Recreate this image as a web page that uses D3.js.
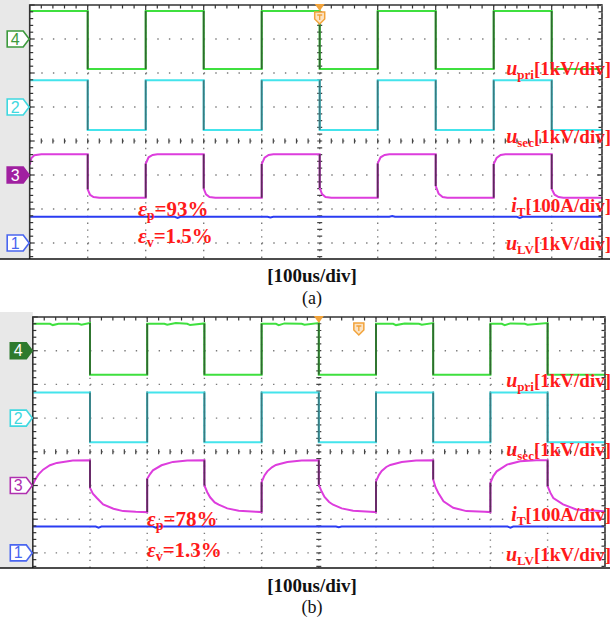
<!DOCTYPE html>
<html>
<head>
<meta charset="utf-8">
<script src="https://cdn.jsdelivr.net/npm/d3@7"></script>
<style>
  body { margin: 0; background: #fff; }
  text { font-family: "Liberation Serif", "Times New Roman", serif; }
</style>
</head>
<body>
<svg id="chart" width="610" height="626"></svg>
<script>
// time in divisions (100us/div), values in divisions above each channel's ground marker

// ---- panel (a) ----
const priA = [[0,0.82],[1,0.82],[1,-0.88],[2,-0.88],[2,0.82],[3,0.82],[3,-0.88],[4,-0.88],[4,0.82],[5,0.82],[5,-0.88],
  [6,-0.88],[6,0.82],[7,0.82],[7,-0.88],[8,-0.88],[8,0.82],[9,0.82],[9,-0.88],[10,-0.88]];
const secA = [[0,0.79],[1,0.79],[1,-0.68],[2,-0.68],[2,0.79],[3,0.79],[3,-0.68],[4,-0.68],[4,0.79],[5,0.79],[5,-0.68],
  [6,-0.68],[6,0.79],[7,0.79],[7,-0.68],[8,-0.68],[8,0.79],[9,0.79],[9,-0.68],[10,-0.68]];
const curA = [
  [0,0.30],[0.03,0.50],[0.08,0.58],[0.2,0.61],
  [1,0.61],[1,-0.42],[1.04,-0.58],[1.1,-0.65],[1.2,-0.67],
  [2,-0.67],[2,0.33],[2.05,0.52],[2.12,0.59],[2.2,0.61],
  [3,0.61],[3,-0.40],[3.04,-0.57],[3.1,-0.65],[3.2,-0.67],
  [4,-0.67],[4,0.32],[4.05,0.51],[4.12,0.59],[4.2,0.61],
  [5,0.61],[5,-0.38],[5.04,-0.56],[5.1,-0.65],[5.2,-0.67],
  [6,-0.67],[6,0.34],[6.05,0.52],[6.12,0.59],[6.2,0.61],
  [7,0.61],[7,-0.32],[7.05,-0.55],[7.12,-0.65],[7.2,-0.67],
  [8,-0.67],[8,0.32],[8.05,0.50],[8.12,0.59],[8.2,0.61],
  [9,0.61],[9,-0.41],[9.05,-0.58],[9.12,-0.65],[9.2,-0.67],
  [10,-0.67]];
const lvA = [[0,0.77],[2.5,0.77],[2.55,0.74],[2.6,0.77],[4.1,0.77],[4.15,0.75],[4.2,0.77],[6.2,0.77],[6.25,0.79],
  [6.3,0.77],[8.4,0.77],[8.45,0.74],[8.5,0.77],[10,0.77]];

// ---- panel (b) ----
const priB = [[0,0.80],[0.3,0.80],[0.35,0.76],[0.45,0.80],[0.8,0.80],[0.85,0.77],[1,0.82],[1,-0.71],[2,-0.71],
  [2,0.80],[2.3,0.80],[2.35,0.77],[2.5,0.82],[2.7,0.80],[2.75,0.76],[3,0.81],[3,-0.71],[4,-0.71],
  [4,0.80],[4.25,0.80],[4.3,0.76],[4.4,0.81],[4.7,0.80],[4.75,0.77],[5,0.82],[5,-0.71],[6,-0.71],
  [6,0.80],[6.3,0.80],[6.35,0.76],[6.5,0.81],[6.75,0.80],[6.8,0.77],[7,0.82],[7,-0.71],[8,-0.71],
  [8,0.80],[8.2,0.80],[8.25,0.76],[8.35,0.81],[8.6,0.80],[8.65,0.77],[9,0.82],[9,-0.71],[10,-0.71]];
const secB = [[0,0.76],[1,0.76],[1,-0.72],[2,-0.72],[2,0.76],[3,0.76],[3,-0.72],[4,-0.72],[4,0.76],[5,0.76],[5,-0.72],
  [6,-0.72],[6,0.76],[7,0.76],[7,-0.72],[8,-0.72],[8,0.76],[9,0.76],[9,-0.72],[10,-0.72]];
const curB = [
  [0,0.03],[0.05,0.20],[0.1,0.33],[0.18,0.47],[0.3,0.60],[0.42,0.67],[0.7,0.74],
  [1,0.75],[1,-0.07],[1.05,-0.24],[1.12,-0.37],[1.23,-0.56],[1.41,-0.69],[1.58,-0.76],[1.8,-0.78],
  [2,-0.79],[2,0.20],[2.05,0.34],[2.1,0.45],[2.25,0.60],[2.45,0.70],[2.7,0.74],
  [3,0.75],[3,0.0],[3.05,-0.20],[3.1,-0.35],[3.18,-0.50],[3.25,-0.57],[3.4,-0.68],[3.6,-0.75],[3.9,-0.78],
  [4,-0.79],[4,0.10],[4.05,0.30],[4.1,0.42],[4.18,0.54],[4.25,0.61],[4.45,0.70],[4.7,0.74],
  [5,0.75],[5,0.02],[5.05,-0.18],[5.1,-0.34],[5.18,-0.49],[5.25,-0.57],[5.4,-0.68],[5.6,-0.75],[5.9,-0.78],
  [6,-0.79],[6,0.12],[6.05,0.31],[6.1,0.43],[6.18,0.55],[6.25,0.61],[6.45,0.70],[6.7,0.74],
  [7,0.75],[7,0.18],[7.04,-0.05],[7.09,-0.22],[7.18,-0.47],[7.35,-0.66],[7.58,-0.76],[7.9,-0.78],
  [8,-0.79],[8,0.08],[8.05,0.28],[8.11,0.42],[8.29,0.62],[8.52,0.72],[8.8,0.75],
  [9,0.75],[9,-0.02],[9.05,-0.22],[9.1,-0.37],[9.27,-0.56],[9.5,-0.71],[9.92,-0.76],[10,-0.77]];
const lvB = [[0,0.78],[1.1,0.78],[1.15,0.75],[1.2,0.78],[2.1,0.78],[2.15,0.75],[2.2,0.78],[5.3,0.78],[5.35,0.76],
  [5.4,0.78],[8.3,0.78],[8.35,0.75],[8.4,0.78],[10,0.78]];

// text
const chanUnitLabels = [["u","pri","[1kV/div]"],["u","sec","[1kV/div]"],["i","T","[100A/div]"],["u","LV","[1kV/div]"]];
const epsPValues = ["=93%", "=78%"];
const epsVValues = ["=1.5%", "=1.3%"];
const timeBaseLabel = "[100us/div]";
const panelTags = ["(a)", "(b)"];

const svg = d3.select("#chart");

const panels = [
  { x0: 29.7, dx: 58, top: 5, dy: 34, right: 602, bottom: 259, stripTop: 0,
    traces: [priA, secA, curA, lvA], markerFill: [false, false, true, false], trigT: 5,
    labelY: [75, 143, 212, 250], epsX: 138, epsY: [216, 243], baseY: 282, tagY: 304, tag: 0 },
  { x0: 32.8, dx: 57.2, top: 317, dy: 33.7, right: 605, bottom: 568, stripTop: 312,
    traces: [priB, secB, curB, lvB], markerFill: [true, false, false, false], trigT: 5.7,
    labelY: [387, 456, 521, 561], epsX: 147, epsY: [526, 557], baseY: 592, tagY: 613, tag: 1 }
];

// channel order: ch4 u_pri, ch2 u_sec, ch3 i_T, ch1 u_LV
const chanNums = ["4", "2", "3", "1"];
const chanGround = [3, 1, -1, -3];
const chanColor = ["#3fe03f", "#44e4ec", "#dd3ddd", "#2a3cf2"];
const chanEdge = ["#2f6a2f", "#3a7a80", "#5c2a5c", "#2a3cf2"];
const markerColor = ["#3d9a3d", "#3fd8e0", "#b030b0", "#4a66f0"];
const markerFillColor = ["#2e7a2e", "#3fd8e0", "#a020a0", "#4a66f0"];

panels.forEach((p, pi) => {
  const g = svg.append("g");
  const x = d3.scaleLinear().domain([0, 10]).range([p.x0, p.x0 + 10 * p.dx]);
  const y = d3.scaleLinear().domain([4, -4]).range([p.top, p.top + 8 * p.dy]);

  // left grey strip
  g.append("rect").attr("x", 0).attr("y", p.stripTop).attr("width", p.x0).attr("height", p.bottom - p.stripTop)
    .attr("fill", "#e8e8e8");

  const clipId = "clip" + pi;
  svg.append("clipPath").attr("id", clipId).append("rect")
    .attr("x", p.x0).attr("y", p.top).attr("width", p.right - p.x0).attr("height", p.bottom - p.top);
  const plot = g.append("g").attr("clip-path", `url(#${clipId})`);

  const sx = p.dx / 5, sy = p.dy / 5;
  // dotted grid
  d3.range(1, 10).forEach(t => {
    plot.append("line").attr("x1", x(t)).attr("x2", x(t)).attr("y1", p.top).attr("y2", p.bottom)
      .attr("stroke", "#7a7a7a").attr("stroke-width", 1.4).attr("stroke-dasharray", `1.4,${sy - 1.4}`);
  });
  d3.range(-3, 4).forEach(k => {
    plot.append("line").attr("x1", p.x0).attr("x2", p.right).attr("y1", y(k)).attr("y2", y(k))
      .attr("stroke", "#7a7a7a").attr("stroke-width", 1.4).attr("stroke-dasharray", `1.4,${sx - 1.4}`);
  });
  // centre axes with small ticks
  d3.range(0, 41).forEach(i => {
    const yy = p.top + i * sy;
    plot.append("line").attr("x1", x(5) - 2.5).attr("x2", x(5) + 2.5).attr("y1", yy).attr("y2", yy)
      .attr("stroke", "#444").attr("stroke-width", 1.2);
  });
  d3.range(0, 51).forEach(i => {
    const xx = p.x0 + i * sx;
    plot.append("line").attr("x1", xx).attr("x2", xx).attr("y1", y(0) - 2.5).attr("y2", y(0) + 2.5)
      .attr("stroke", "#444").attr("stroke-width", 1.2);
  });

  // border ticks
  d3.range(0, 51).forEach(i => {
    const xx = p.x0 + i * sx;
    if (xx > p.right) return;
    g.append("line").attr("x1", xx).attr("x2", xx).attr("y1", p.top).attr("y2", p.top + (i % 5 === 0 ? 5 : 3.5))
      .attr("stroke", "#333").attr("stroke-width", 1.2);
  });
  d3.range(0, 41).forEach(i => {
    const yy = p.top + i * sy;
    if (yy > p.bottom) return;
    g.append("line").attr("x1", p.x0).attr("x2", p.x0 + (i % 5 === 0 ? 5 : 3.5)).attr("y1", yy).attr("y2", yy)
      .attr("stroke", "#333").attr("stroke-width", 1.2);
    g.append("line").attr("x1", p.right).attr("x2", p.right - (i % 5 === 0 ? 5 : 3.5)).attr("y1", yy).attr("y2", yy)
      .attr("stroke", "#333").attr("stroke-width", 1.2);
  });
  // frame
  g.append("path")
    .attr("d", `M${p.x0},${p.bottom}V${p.top}H${p.right}V${p.bottom}`)
    .attr("fill", "none").attr("stroke", "#333").attr("stroke-width", 1.6);
  g.append("line").attr("x1", 0).attr("x2", 610).attr("y1", p.bottom).attr("y2", p.bottom)
    .attr("stroke", "#111").attr("stroke-width", 1.4);
  g.append("line").attr("x1", p.right).attr("x2", p.right).attr("y1", p.top).attr("y2", p.bottom)
    .attr("stroke", "#8a8a8a").attr("stroke-width", 1.2).attr("stroke-dasharray", `1.4,${sy - 1.4}`);

  // traces
  const line = d3.line().x(d => x(d[0])).y(d => y(d[1]));
  p.traces.forEach((tr, ci) => {
    const pts = tr.map(d => [d[0], d[1] + chanGround[ci]]);
    plot.append("path").attr("d", line(pts)).attr("fill", "none")
      .attr("stroke", chanColor[ci]).attr("stroke-width", 2);
    // vertical edges drawn darker, as on the scope screen
    for (let i = 1; i < pts.length; i++) {
      if (pts[i][0] === pts[i - 1][0]) {
        plot.append("path").attr("d", line([pts[i - 1], pts[i]])).attr("fill", "none")
          .attr("stroke", chanEdge[ci]).attr("stroke-width", 1.8);
      }
    }
  });

  // channel markers in the strip
  chanNums.forEach((n, ci) => {
    const cy = y(chanGround[ci]);
    const tip = p.x0 - 0.5, x1 = tip - 6, xs = tip - 22, h = 16;
    const filled = p.markerFill[ci];
    g.append("path")
      .attr("d", `M${xs},${cy - h / 2}H${x1}L${tip},${cy}L${x1},${cy + h / 2}H${xs}Z`)
      .attr("fill", filled ? markerFillColor[ci] : "#fff")
      .attr("stroke", filled ? markerFillColor[ci] : markerColor[ci]).attr("stroke-width", 1.6);
    g.append("text").attr("x", xs + 8).attr("y", cy + 5.5).attr("text-anchor", "middle")
      .style("font-family", "'Liberation Sans', Arial, sans-serif").style("font-size", "16px")
      .attr("fill", filled ? "#fff" : markerColor[ci]).text(n);
  });

  // trigger markers
  const tx = x(5);
  g.append("path").attr("d", `M${tx - 5},${p.top - 1}H${tx + 5}L${tx},${p.top + 6}Z`).attr("fill", "#f2a33a");
  const mx = x(p.trigT), my = p.top + (pi === 0 ? 7 : 6);
  g.append("path").attr("d", `M${mx - 5},${my}H${mx + 5}V${my + 7}L${mx},${my + 12}L${mx - 5},${my + 7}Z`)
    .attr("fill", "#fbe3c4").attr("stroke", "#f2a33a").attr("stroke-width", 1.5);
  g.append("path").attr("d", `M${mx - 2.5},${my + 3}H${mx + 2.5}M${mx},${my + 3}V${my + 8}`)
    .attr("stroke", "#f2a33a").attr("stroke-width", 1.3);

  // red labels
  chanUnitLabels.forEach((lab, ci) => {
    const t = g.append("text").attr("x", 611).attr("y", p.labelY[ci]).attr("text-anchor", "end")
      .attr("fill", "#ff1a1a").style("font-size", "19px").style("font-weight", "bold");
    t.append("tspan").style("font-style", "italic").style("font-size", "20px").text(lab[0]);
    t.append("tspan").attr("dy", 4).style("font-size", "13px").text(lab[1]);
    t.append("tspan").attr("dy", -4).text(lab[2]);
  });
  [["p", epsPValues[pi]], ["v", epsVValues[pi]]].forEach((e, k) => {
    const t = g.append("text").attr("x", p.epsX).attr("y", p.epsY[k])
      .attr("fill", "#ff1a1a").style("font-size", "21px").style("font-weight", "bold");
    t.append("tspan").style("font-style", "italic").text("\u03b5");
    t.append("tspan").attr("dy", 4).style("font-size", "14px").text(e[0]);
    t.append("tspan").attr("dy", -4).text(e[1]);
  });

  // time base and caption
  svg.append("text").attr("x", 312).attr("y", p.baseY).attr("text-anchor", "middle")
    .style("font-size", "19px").style("font-weight", "bold").attr("fill", "#111").text(timeBaseLabel);
  svg.append("text").attr("x", 312).attr("y", p.tagY).attr("text-anchor", "middle")
    .style("font-size", "18px").attr("fill", "#111").text(panelTags[p.tag]);
});
</script>
</body>
</html>
